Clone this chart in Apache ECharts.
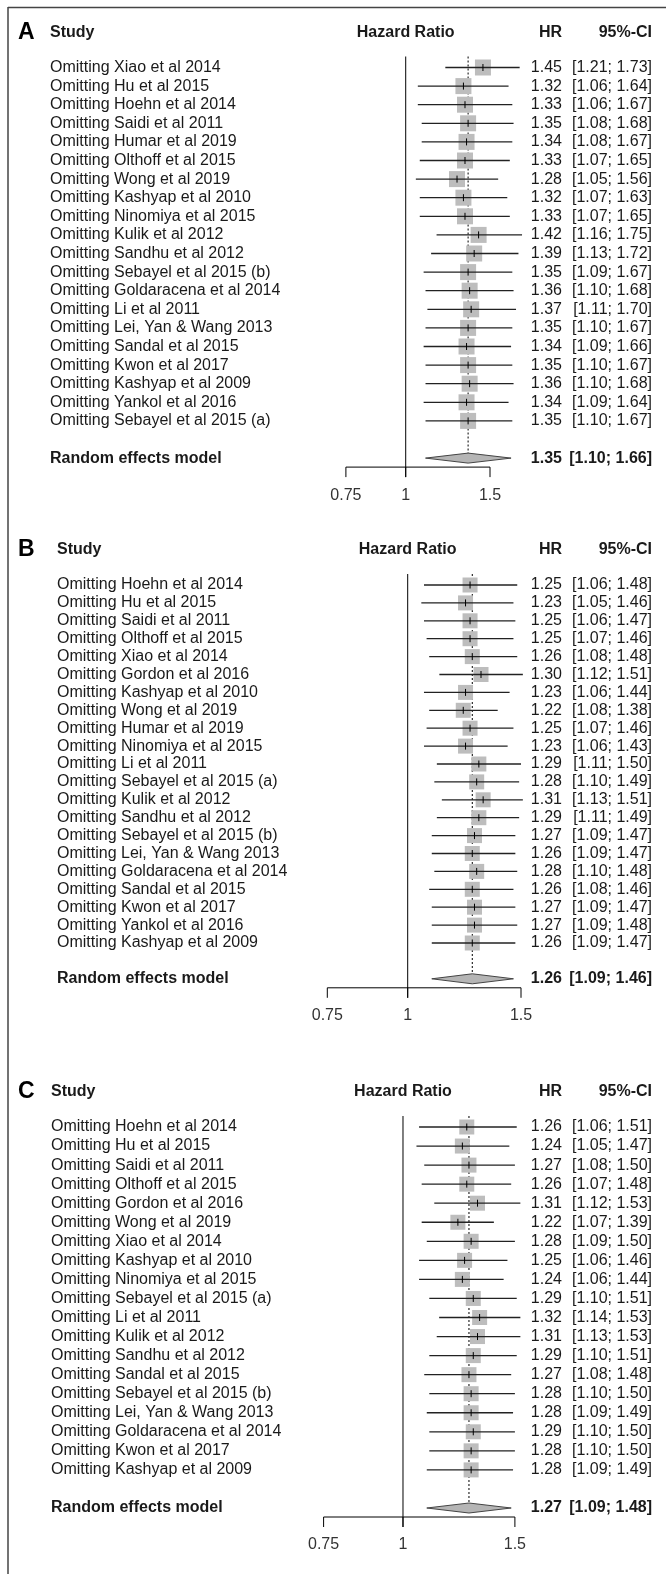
<!DOCTYPE html>
<html><head><meta charset="utf-8">
<script src="https://cdn.jsdelivr.net/npm/echarts@6/dist/echarts.min.js"></script>
<style>html,body{margin:0;padding:0;background:#fff}#c{width:666px;height:1574px}</style>
</head><body><div id="c"></div>
<script>
// ---------------- DATA ----------------
const studiesA = ['Omitting Xiao et al 2014','Omitting Hu et al 2015','Omitting Hoehn et al 2014','Omitting Saidi et al 2011','Omitting Humar et al 2019','Omitting Olthoff et al 2015','Omitting Wong et al 2019','Omitting Kashyap et al 2010','Omitting Ninomiya et al 2015','Omitting Kulik et al 2012','Omitting Sandhu et al 2012','Omitting Sebayel et al 2015 (b)','Omitting Goldaracena et al 2014','Omitting Li et al 2011','Omitting Lei, Yan & Wang 2013','Omitting Sandal et al 2015','Omitting Kwon et al 2017','Omitting Kashyap et al 2009','Omitting Yankol et al 2016','Omitting Sebayel et al 2015 (a)'];
const hrA  = [1.45,1.32,1.33,1.35,1.34,1.33,1.28,1.32,1.33,1.42,1.39,1.35,1.36,1.37,1.35,1.34,1.35,1.36,1.34,1.35];
const lowA = [1.21,1.06,1.06,1.08,1.08,1.07,1.05,1.07,1.07,1.16,1.13,1.09,1.10,1.11,1.10,1.09,1.10,1.10,1.09,1.10];
const upA  = [1.73,1.64,1.67,1.68,1.67,1.65,1.56,1.63,1.65,1.75,1.72,1.67,1.68,1.70,1.67,1.66,1.67,1.68,1.64,1.67];
const reA  = [1.35,1.10,1.66];

const studiesB = ['Omitting Hoehn et al 2014','Omitting Hu et al 2015','Omitting Saidi et al 2011','Omitting Olthoff et al 2015','Omitting Xiao et al 2014','Omitting Gordon et al 2016','Omitting Kashyap et al 2010','Omitting Wong et al 2019','Omitting Humar et al 2019','Omitting Ninomiya et al 2015','Omitting Li et al 2011','Omitting Sebayel et al 2015 (a)','Omitting Kulik et al 2012','Omitting Sandhu et al 2012','Omitting Sebayel et al 2015 (b)','Omitting Lei, Yan & Wang 2013','Omitting Goldaracena et al 2014','Omitting Sandal et al 2015','Omitting Kwon et al 2017','Omitting Yankol et al 2016','Omitting Kashyap et al 2009'];
const hrB  = [1.25,1.23,1.25,1.25,1.26,1.30,1.23,1.22,1.25,1.23,1.29,1.28,1.31,1.29,1.27,1.26,1.28,1.26,1.27,1.27,1.26];
const lowB = [1.06,1.05,1.06,1.07,1.08,1.12,1.06,1.08,1.07,1.06,1.11,1.10,1.13,1.11,1.09,1.09,1.10,1.08,1.09,1.09,1.09];
const upB  = [1.48,1.46,1.47,1.46,1.48,1.51,1.44,1.38,1.46,1.43,1.50,1.49,1.51,1.49,1.47,1.47,1.48,1.46,1.47,1.48,1.47];
const reB  = [1.26,1.09,1.46];

const studiesC = ['Omitting Hoehn et al 2014','Omitting Hu et al 2015','Omitting Saidi et al 2011','Omitting Olthoff et al 2015','Omitting Gordon et al 2016','Omitting Wong et al 2019','Omitting Xiao et al 2014','Omitting Kashyap et al 2010','Omitting Ninomiya et al 2015','Omitting Sebayel et al 2015 (a)','Omitting Li et al 2011','Omitting Kulik et al 2012','Omitting Sandhu et al 2012','Omitting Sandal et al 2015','Omitting Sebayel et al 2015 (b)','Omitting Lei, Yan & Wang 2013','Omitting Goldaracena et al 2014','Omitting Kwon et al 2017','Omitting Kashyap et al 2009'];
const hrC  = [1.26,1.24,1.27,1.26,1.31,1.22,1.28,1.25,1.24,1.29,1.32,1.31,1.29,1.27,1.28,1.28,1.29,1.28,1.28];
const lowC = [1.06,1.05,1.08,1.07,1.12,1.07,1.09,1.06,1.06,1.10,1.14,1.13,1.10,1.08,1.10,1.09,1.10,1.10,1.09];
const upC  = [1.51,1.47,1.50,1.48,1.53,1.39,1.50,1.46,1.44,1.51,1.53,1.53,1.51,1.48,1.50,1.49,1.50,1.50,1.49];
const reC  = [1.27,1.09,1.48];

const tickValues = [0.75, 1, 1.5];
const tickLabels = ['0.75', '1', '1.5'];
const panelLetters = ['A', 'B', 'C'];
const headerTexts = ['Study', 'Hazard Ratio', 'HR', '95%-CI'];
const reLabel = 'Random effects model';

// ---------------- LAYOUT ----------------
const FONT = "Arial, 'Liberation Sans', sans-serif";
const layouts = [
  {x075: 345.9, x15: 490.0, top: 67.5, step: 18.6, letterX: 18, labelX: 50, sq: 16},
  {x075: 327.3, x15: 521.0, top: 585,  step: 17.9, letterX: 18, labelX: 57, sq: 15},
  {x075: 323.6, x15: 514.9, top: 1127, step: 19.05, letterX: 18, labelX: 51, sq: 15}
];
const panelsData = [
  {studies: studiesA, hr: hrA, lo: lowA, hi: upA, re: reA},
  {studies: studiesB, hr: hrB, lo: lowB, hi: upB, re: reB},
  {studies: studiesC, hr: hrC, lo: lowC, hi: upC, re: reC}
];
const HR_RIGHT = 562, CI_RIGHT = 652;

function fmt(v){ return v.toFixed(2); }
function txt(x, y, s, opt){
  return {type:'text', x:x, y:y, style:Object.assign({text:s, fill:'#1a1a1a', font:'16px ' + FONT, align:'left', verticalAlign:'middle'}, opt||{})};
}

const grids = [], xAxes = [], yAxes = [], series = [];
panelsData.forEach((pd, k) => {
  const L = layouts[k];
  const n = pd.studies.length;
  const reRow = n + 2;
  grids.push({left: L.x075, width: L.x15 - L.x075, top: L.top, height: (reRow - 1) * L.step});
  xAxes.push({type:'log', gridIndex:k, min:tickValues[0], max:tickValues[tickValues.length-1], show:false});
  yAxes.push({type:'value', gridIndex:k, min:1, max:reRow, inverse:true, show:false});

  const rows = pd.studies.map((s, i) => [i + 1, pd.hr[i], pd.lo[i], pd.hi[i]]);
  series.push({
    type:'custom', xAxisIndex:k, yAxisIndex:k, clip:false, z:5,
    encode:{x:1, y:0},
    data: rows,
    renderItem: function(params, api){
      const row = api.value(0), hr = api.value(1), lo = api.value(2), hi = api.value(3);
      const c = api.coord([hr, row]), l = api.coord([lo, row]), h = api.coord([hi, row]);
      const y = c[1], s = L.sq, idx = params.dataIndex;
      return {type:'group', children:[
        {type:'rect', shape:{x:c[0]-s/2, y:y-s/2, width:s, height:s}, style:{fill:'#bdbdbd'}},
        {type:'line', shape:{x1:l[0], y1:y, x2:h[0], y2:y}, style:{stroke:'#222', lineWidth:1.3}},
        {type:'line', shape:{x1:c[0], y1:y-3.5, x2:c[0], y2:y+3.5}, style:{stroke:'#000', lineWidth:1}},
        txt(L.labelX, y, pd.studies[idx]),
        txt(HR_RIGHT, y, fmt(hr), {align:'right'}),
        txt(CI_RIGHT, y, '[' + fmt(lo) + '; ' + fmt(hi) + ']', {align:'right'})
      ]};
    }
  });

  series.push({
    type:'custom', xAxisIndex:k, yAxisIndex:k, clip:false, z:3,
    encode:{x:1, y:0},
    data: [[reRow, pd.re[0], pd.re[1], pd.re[2]]],
    renderItem: function(params, api){
      const row = api.value(0), te = api.value(1), lo = api.value(2), hi = api.value(3);
      const c = api.coord([te, row]), l = api.coord([lo, row]), h = api.coord([hi, row]);
      const top = api.coord([1, 1])[1] - 11;
      const one = api.coord([1, 1])[0];
      const y = c[1];
      const axisY = y + 9;
      const ch = [];
      ch.push({type:'line', shape:{x1:one, y1:top, x2:one, y2:axisY+10}, style:{stroke:'#000', lineWidth:1}});
      ch.push({type:'line', shape:{x1:c[0], y1:top, x2:c[0], y2:y-4}, style:{stroke:'#000', lineWidth:1, lineDash:[2,2]}});
      ch.push({type:'polygon', shape:{points:[[l[0], y], [c[0], y-5], [h[0], y], [c[0], y+5]]}, style:{fill:'#b5b5b5', stroke:'#444', lineWidth:1}});
      const a0 = api.coord([tickValues[0], row])[0], a1 = api.coord([tickValues[tickValues.length-1], row])[0];
      ch.push({type:'line', shape:{x1:a0, y1:axisY, x2:a1, y2:axisY}, style:{stroke:'#000', lineWidth:1}});
      tickValues.forEach((tv, j) => {
        const tx = api.coord([tv, row])[0];
        ch.push({type:'line', shape:{x1:tx, y1:axisY, x2:tx, y2:axisY+10}, style:{stroke:'#000', lineWidth:1}});
        ch.push(txt(tx, axisY + 28, tickLabels[j], {align:'center', fill:'#333'}));
      });
      const B = 'bold 16px ' + FONT;
      ch.push(txt(L.labelX, y, reLabel, {font:B}));
      ch.push(txt(HR_RIGHT, y, fmt(te), {font:B, align:'right'}));
      ch.push(txt(CI_RIGHT, y, '[' + fmt(lo) + '; ' + fmt(hi) + ']', {font:B, align:'right'}));
      const hy = top + 11 - 35;
      ch.push(txt(L.letterX, hy, panelLetters[k], {font:'bold 23px ' + FONT, fill:'#000'}));
      ch.push(txt(L.labelX, hy, headerTexts[0], {font:B}));
      ch.push(txt(one, hy, headerTexts[1], {font:B, align:'center'}));
      ch.push(txt(HR_RIGHT, hy, headerTexts[2], {font:B, align:'right'}));
      ch.push(txt(CI_RIGHT, hy, headerTexts[3], {font:B, align:'right'}));
      return {type:'group', children:ch};
    }
  });
});

const chart = echarts.init(document.getElementById('c'), null, {renderer:'canvas'});
chart.setOption({
  animation:false,
  backgroundColor:'#fff',
  grid: grids, xAxis: xAxes, yAxis: yAxes, series: series,
  graphic: [
    {type:'line', shape:{x1:8, y1:7.5, x2:666, y2:7.5}, style:{stroke:'#444', lineWidth:1.5}},
    {type:'line', shape:{x1:8, y1:7, x2:8, y2:1574}, style:{stroke:'#444', lineWidth:1.5}}
  ]
});
</script></body></html>
